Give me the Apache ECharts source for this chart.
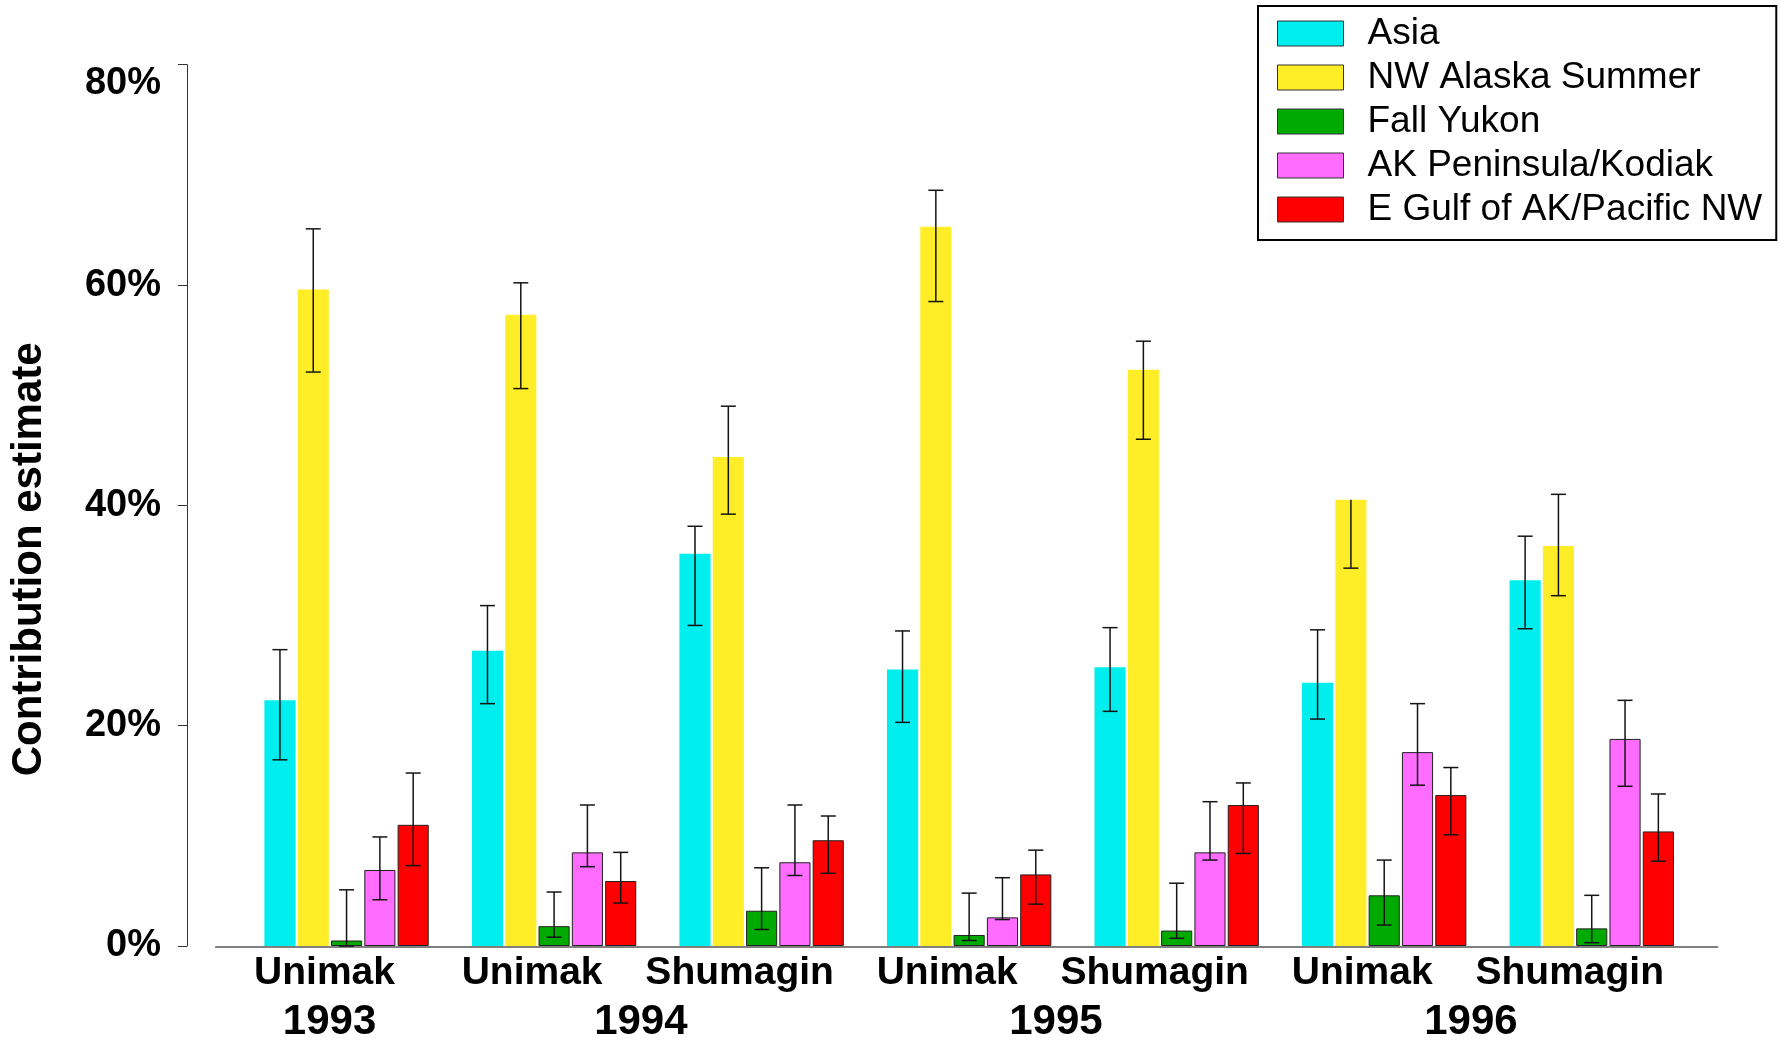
<!DOCTYPE html>
<html>
<head>
<meta charset="utf-8">
<title>Contribution estimate by region</title>
<script src="https://cdn.jsdelivr.net/npm/echarts@6/dist/echarts.min.js"></script>
<style>
  html, body { margin: 0; padding: 0; background: #fff; }
  #chart { width: 1780px; height: 1043px; }
</style>
</head>
<body>
<div id="chart"></div>
<script>
// Sampling sites (one bar group each) and the year each sample belongs to
const sites = ['Unimak', 'Unimak', 'Shumagin', 'Unimak', 'Shumagin', 'Unimak', 'Shumagin'];
const siteYears = ['1993', '1994', '1994', '1995', '1995', '1996', '1996'];

const regionNames = ['Asia', 'NW Alaska Summer', 'Fall Yukon', 'AK Peninsula/Kodiak', 'E Gulf of AK/Pacific NW'];

// Point estimates (%) and interval bounds (%) per region, one value per site
const asia     = [22.3, 26.8, 35.6, 25.1, 25.3, 23.9, 33.2];
const asiaLow  = [16.9, 22.0, 29.1, 20.3, 21.3, 20.6, 28.8];
const asiaHigh = [26.9, 30.9, 38.1, 28.6, 28.9, 28.7, 37.2];

const nwAlaska     = [59.6, 57.3, 44.4, 65.3, 52.3, 40.5, 36.3];
const nwAlaskaLow  = [52.1, 50.6, 39.2, 58.5, 46.0, 34.3, 31.8];
const nwAlaskaHigh = [65.1, 60.2, 49.0, 68.6, 54.9, 40.5, 41.0];

const fallYukon     = [0.5, 1.8, 3.2, 1.0, 1.4, 4.6, 1.6];
const fallYukonLow  = [0.0, 0.8, 1.5, 0.5, 0.7, 1.9, 0.3];
const fallYukonHigh = [5.1, 4.9, 7.1, 4.8, 5.7, 7.8, 4.6];

const akPeninsula     = [6.9, 8.5, 7.6, 2.6, 8.5, 17.6, 18.8];
const akPeninsulaLow  = [4.2, 7.2, 6.4, 2.4, 7.8, 14.6, 14.5];
const akPeninsulaHigh = [9.9, 12.8, 12.8, 6.2, 13.1, 22.0, 22.3];

const eGulf     = [11.0, 5.9, 9.6, 6.5, 12.8, 13.7, 10.4];
const eGulfLow  = [7.3, 3.9, 6.6, 3.8, 8.4, 10.1, 7.7];
const eGulfHigh = [15.7, 8.5, 11.8, 8.7, 14.8, 16.2, 13.8];

const yTicks = { min: 0, max: 80, interval: 20 };

// ---- styling ----
const FONT = "'Liberation Sans', Arial, Helvetica, sans-serif";
const BAR_FRAC = 0.15;   // bar width as a fraction of the category band
const GAP_FRAC = 0.07;   // gap between bars as a fraction of bar width
const CAP = 7.5;         // half width of error-bar caps (px)

const regions = [
  { name: regionNames[0], values: asia,        low: asiaLow,        high: asiaHigh,        color: '#00EEEE', border: false },
  { name: regionNames[1], values: nwAlaska,    low: nwAlaskaLow,    high: nwAlaskaHigh,    color: '#FFED27', border: false },
  { name: regionNames[2], values: fallYukon,   low: fallYukonLow,   high: fallYukonHigh,   color: '#00AA00', border: true },
  { name: regionNames[3], values: akPeninsula, low: akPeninsulaLow, high: akPeninsulaHigh, color: '#FF6CFF', border: true },
  { name: regionNames[4], values: eGulf,       low: eGulfLow,       high: eGulfHigh,       color: '#FF0000', border: true }
];

// Year labels sit on a half-band axis: slot k lies k/2 bands from the left edge,
// so a run of sites [first..last] is centred on slot first + last + 1.
const yearSlots = new Array(sites.length * 2 + 1).fill('');
(function () {
  let start = 0;
  for (let i = 1; i <= siteYears.length; i++) {
    if (i === siteYears.length || siteYears[i] !== siteYears[start]) {
      yearSlots[start + (i - 1) + 1] = siteYears[start];
      start = i;
    }
  }
})();

const barSeries = regions.map(r => ({
  type: 'bar',
  name: r.name,
  xAxisIndex: 0,
  yAxisIndex: 0,
  data: r.values,
  barWidth: (BAR_FRAC * 100) + '%',
  barGap: (GAP_FRAC * 100) + '%',
  itemStyle: {
    color: r.color,
    borderColor: r.border ? '#222' : r.color,
    borderWidth: r.border ? 1 : 0
  },
  z: 2
}));

const nBars = regions.length;
const errorSeries = regions.map((r, k) => ({
  type: 'custom',
  name: r.name + ' interval',
  xAxisIndex: 0,
  yAxisIndex: 0,
  z: 5,
  data: sites.map((_, i) => [i, r.low[i], r.high[i], r.values[i]]),
  encode: { x: 0, y: [1, 2] },
  renderItem: function (params, api) {
    const i = api.value(0);
    const band = api.size([1, 0])[0];
    const bw = band * BAR_FRAC;
    const pitch = bw * (1 + GAP_FRAC);
    const x = api.coord([i, 0])[0] + (k - (nBars - 1) / 2) * pitch;
    const yLow = api.coord([i, api.value(1)])[1];
    const yHigh = api.coord([i, api.value(2)])[1];
    const style = { stroke: '#141414', lineWidth: 1.5 };
    const children = [
      { type: 'line', shape: { x1: x, y1: yHigh, x2: x, y2: yLow }, style: style },
      { type: 'line', shape: { x1: x - CAP, y1: yLow, x2: x + CAP, y2: yLow }, style: style }
    ];
    if (api.value(2) > api.value(3)) {
      children.push({ type: 'line', shape: { x1: x - CAP, y1: yHigh, x2: x + CAP, y2: yHigh }, style: style });
    }
    return { type: 'group', children: children };
  }
}));

const chart = echarts.init(document.getElementById('chart'), null, { renderer: 'canvas' });

const option = {
  animation: false,
  backgroundColor: '#ffffff',
  textStyle: { fontFamily: FONT },
  grid: [
    { left: 238.8, right: 84.5, top: 64.7, bottom: 96.2 },
    { left: 215.7, right: 62.4, top: 64.7, bottom: 96.2 }
  ],
  legend: {
    data: regionNames,
    orient: 'vertical',
    left: 1258,
    top: 6,
    itemWidth: 66,
    itemHeight: 25,
    itemGap: 7,
    padding: [9, 14, 12, 19],
    borderColor: '#000',
    borderWidth: 2,
    backgroundColor: '#fff',
    icon: 'rect',
    itemStyle: { borderColor: '#333', borderWidth: 1 },
    textStyle: { fontFamily: FONT, fontSize: 37, color: '#000', padding: [0, 0, 0, 19] }
  },
  xAxis: [
    {
      type: 'category',
      gridIndex: 0,
      data: sites,
      axisLine: { show: false },
      axisTick: { show: false },
      splitLine: { show: false },
      axisLabel: {
        interval: 0,
        margin: 8,
        fontFamily: FONT,
        fontSize: 39,
        fontWeight: 'bold',
        color: '#000',
        padding: [0, 44, 0, 0]
      }
    },
    {
      type: 'category',
      gridIndex: 0,
      position: 'bottom',
      data: yearSlots,
      boundaryGap: false,
      axisLine: { show: false },
      axisTick: { show: false },
      splitLine: { show: false },
      axisLabel: {
        interval: 0,
        margin: 55,
        fontFamily: FONT,
        fontSize: 42,
        fontWeight: 'bold',
        color: '#000',
        padding: [0, 34, 0, 0]
      }
    },
    {
      type: 'value',
      gridIndex: 1,
      min: 0,
      max: 1,
      axisLine: { show: true, lineStyle: { color: '#555', width: 1.5 } },
      axisTick: { show: false },
      axisLabel: { show: false },
      splitLine: { show: false }
    }
  ],
  yAxis: [
    {
      type: 'value',
      gridIndex: 0,
      min: yTicks.min,
      max: yTicks.max,
      interval: yTicks.interval,
      offset: 55.8,
      name: 'Contribution estimate',
      nameLocation: 'middle',
      nameGap: 137,
      nameRotate: 90,
      nameTextStyle: {
        fontFamily: FONT,
        fontSize: 42,
        fontWeight: 'bold',
        color: '#000',
        padding: [0, 108, 0, 0]
      },
      axisLine: { show: true, lineStyle: { color: '#333', width: 1 } },
      axisTick: { show: true, length: 9, lineStyle: { color: '#333', width: 1 } },
      splitLine: { show: false },
      axisLabel: {
        margin: 26,
        fontFamily: FONT,
        fontSize: 38,
        fontWeight: 'bold',
        color: '#000',
        formatter: '{value}%',
        verticalAlignMaxLabel: 'top'
      }
    },
    {
      type: 'value',
      gridIndex: 1,
      min: yTicks.min,
      max: yTicks.max,
      show: false
    }
  ],
  series: barSeries.concat(errorSeries)
};

chart.setOption(option);
</script>
</body>
</html>
